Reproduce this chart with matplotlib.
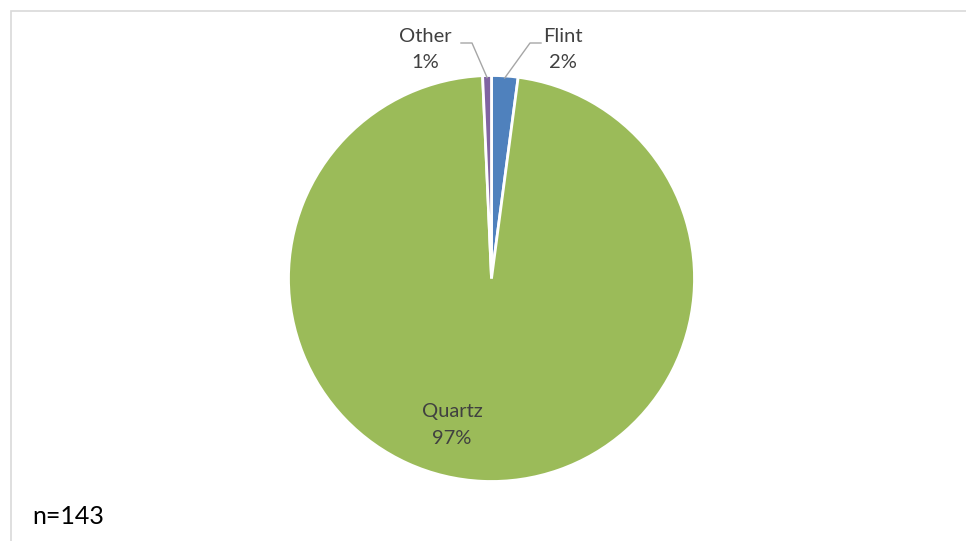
import numpy as np
import matplotlib
matplotlib.use('Agg')
from matplotlib import pyplot as plt
from matplotlib.patches import Rectangle

plt.rcParams['font.family'] = ['Lato', 'DejaVu Sans']

categories = ['Flint', 'Quartz', 'Other']
counts = [3, 139, 1]
colors = ['#4F81BD', '#9BBB59', '#8064A2']
n_total = 143

W, H = 966, 541
cx, cy, R = 491.5, 278.5, 203.0   # pie centre / radius in pixels

fig = plt.figure(figsize=(W / 100, H / 100), dpi=100)
# chart border (right / bottom are cut off in the source image)
fig.patches.append(Rectangle((11 / W, -0.2), 2, 1.2 - 11 / H, transform=fig.transFigure,
                             fill=False, edgecolor='#D9D9D9', linewidth=1.2))

ax = fig.add_axes([0, 0, 1, 1])
wedges, _ = ax.pie(counts, colors=colors, startangle=90, counterclock=False,
                   wedgeprops=dict(edgecolor='white', linewidth=2.0))
ax.set_aspect('auto')
ax.set_xlim((0 - cx) / R, (W - cx) / R)
ax.set_ylim((cy - H) / R, cy / R)
ax.axis('off')

pct = [round(100 * c / n_total) for c in counts]
txt = '#404040'
fs = 14.5

# Flint / Other: labels above the pie with leader lines
# (label centre x, horizontal offset of leader start from label centre)
outside = {0: (563, -22), 2: (425, 36)}
for i, (lx, off) in outside.items():
    w = wedges[i]
    mid = np.deg2rad((w.theta1 + w.theta2) / 2)
    x0, y0 = np.cos(mid) * 0.99, np.sin(mid) * 0.99
    tx = (lx - cx) / R
    ax.text(tx, (cy - 36) / R, categories[i], ha='center', va='center', fontsize=fs, color=txt)
    ax.text(tx, (cy - 63) / R, f'{pct[i]}%', ha='center', va='center', fontsize=fs, color=txt)
    ly = (cy - 43) / R
    hx0 = (lx + off - cx) / R
    hx1 = hx0 + np.sign(off) * 11 / R
    ax.plot([hx0, hx1, x0], [ly, ly, y0], color='#A6A6A6', linewidth=1.0, clip_on=False)

# Quartz label inside the slice
ax.text((452 - cx) / R, (cy - 411) / R, categories[1], ha='center', va='center',
        fontsize=fs, color=txt)
ax.text((452 - cx) / R, (cy - 438) / R, f'{pct[1]}%', ha='center', va='center',
        fontsize=fs, color=txt)

fig.text(32 / W, 1 - 517 / H, f'n={n_total}', ha='left', va='center', fontsize=18, color='black')

fig.savefig('out.png', dpi=100)
